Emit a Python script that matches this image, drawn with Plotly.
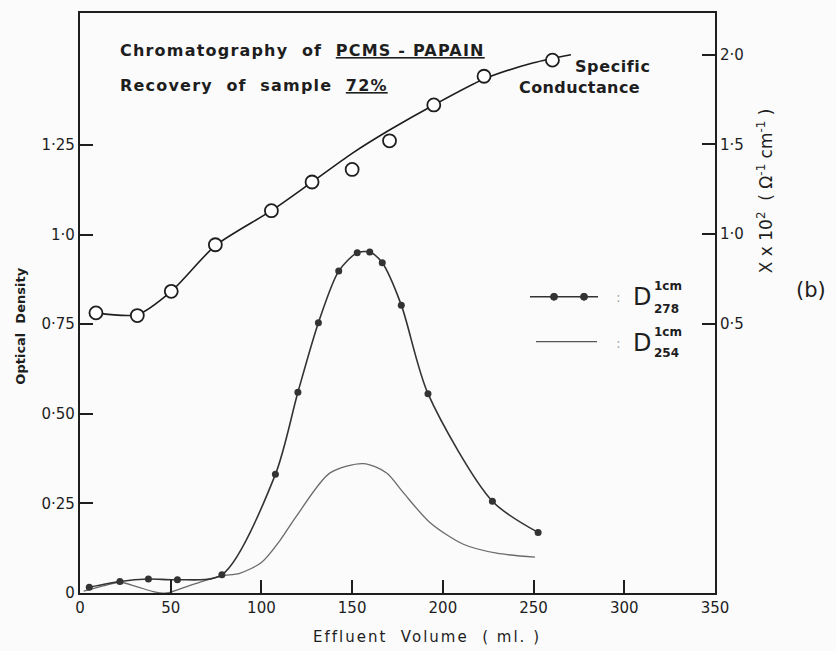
import plotly.graph_objects as go

# ---- data ----
cond_x = [8.8, 31.6, 50.3, 74.6, 105.5, 127.9, 150.0, 170.6, 195.0, 222.7, 260.4]
cond_y = [0.56, 0.545, 0.68, 0.94, 1.13, 1.29, 1.36, 1.52, 1.72, 1.88, 1.97]

cond_fit_x = [8.8, 31.6, 50.3, 74.6, 105.5, 127.9, 150.0, 170.6, 195.0, 222.7, 250.0, 270.6]
cond_fit_y = [0.56, 0.55, 0.68, 0.935, 1.13, 1.29, 1.45, 1.58, 1.72, 1.865, 1.955, 2.0]

d278_x = [5.1, 22.0, 37.7, 53.7, 78.2, 107.7, 120.1, 131.4, 142.6, 152.8, 159.7,
          166.6, 177.1, 191.8, 227.3, 252.5]
d278_y = [0.016, 0.032, 0.039, 0.037, 0.051, 0.331, 0.560, 0.754, 0.898, 0.949, 0.951,
          0.921, 0.803, 0.556, 0.256, 0.169]

d254_x = [2.0, 12.8, 22.0, 31.2, 40.4, 47.8, 58.8, 68.0, 78.2, 88.0, 100.0, 110.0,
          119.4, 137.8, 156.2, 169.0, 178.2, 193.0, 211.3, 229.7, 250.8]
d254_y = [0.005, 0.02, 0.03, 0.018, 0.004, 0.0, 0.018, 0.033, 0.048, 0.055, 0.085, 0.145,
          0.215, 0.335, 0.361, 0.335, 0.28, 0.196, 0.136, 0.111, 0.10]

x_ticks = [0, 50, 100, 150, 200, 250, 300, 350]
y_ticks = [0, 0.25, 0.50, 0.75, 1.0, 1.25]
y_tick_text = ["0", "0·25", "0·50", "0·75", "1·0", "1·25"]
y2_ticks = [0.5, 1.0, 1.5, 2.0]
y2_tick_text = ["0·5", "1·0", "1·5", "2·0"]

INK = "#1e1e1e"
FONT = "DejaVu Sans"

# plot-area geometry in pixels (for placing decorative text)
L, R, T, B = 80, 715, 11, 593.5
PW, PH = R - L, B - T

def px(x):
    return (x - L) / PW

def py(y):
    return (B - y) / PH

fig = go.Figure()

fig.add_trace(go.Scatter(
    x=d254_x, y=d254_y, mode="lines",
    line=dict(color="#6a6a6a", width=1.3, shape="spline", smoothing=0.8),
    showlegend=False, hoverinfo="skip"))

fig.add_trace(go.Scatter(
    x=d278_x, y=d278_y, mode="lines+markers",
    line=dict(color="#333333", width=1.6, shape="spline", smoothing=0.8),
    marker=dict(color="#333333", size=7, symbol="circle"),
    showlegend=False))

fig.add_trace(go.Scatter(
    x=cond_fit_x, y=cond_fit_y, mode="lines", yaxis="y2",
    line=dict(color=INK, width=1.6, shape="spline", smoothing=0.7),
    showlegend=False, hoverinfo="skip"))

fig.add_trace(go.Scatter(
    x=cond_x, y=cond_y, mode="markers", yaxis="y2",
    marker=dict(symbol="circle", size=13, color="white",
                line=dict(color=INK, width=1.8)),
    showlegend=False))

# ---- legend keys (decorative) ----
shapes = [
    dict(type="line", xref="paper", yref="paper", x0=px(530), x1=px(598),
         y0=py(296), y1=py(296), line=dict(color="#333333", width=1.6)),
    dict(type="line", xref="paper", yref="paper", x0=px(536), x1=px(597),
         y0=py(341), y1=py(341), line=dict(color="#555555", width=1.3)),
]
for cxp in (554, 584):
    shapes.append(dict(type="circle", xref="paper", yref="paper",
                       x0=px(cxp - 3.5), x1=px(cxp + 3.5), y0=py(296 + 3.5), y1=py(296 - 3.5),
                       fillcolor="#333333", line=dict(color="#333333", width=1)))

def ann(text, x, y, size, xanchor="left", yanchor="middle", angle=0, color=INK):
    return dict(text=text, x=px(x), y=py(y), xref="paper", yref="paper",
                xanchor=xanchor, yanchor=yanchor, showarrow=False, textangle=angle,
                font=dict(family=FONT, size=size, color=color))

def spaced(s, ls):
    return '<span style="letter-spacing:%spx">%s</span>' % (ls, s)

annotations = [
    ann(spaced("<b>Chromatography  of  <u>PCMS - PAPAIN</u></b>", 1.2), 118, 49, 16),
    ann(spaced("<b>Recovery  of  sample  <u>72%</u></b>", 1.2), 118, 84, 16),
    ann(spaced("<b>Specific</b>", 0.6), 573, 65, 16),
    ann(spaced("<b>Conductance</b>", 0.4), 517, 86, 16),
    ann(":", 618, 296, 14, xanchor="center", color="#aaaaaa"),
    ann(":", 618, 342, 14, xanchor="center", color="#aaaaaa"),
    ann("D", 631, 296, 24),
    ann("<b>1cm</b>", 652, 285, 12),
    ann("<b>278</b>", 652, 308, 12),
    ann("D", 631, 342, 24),
    ann("<b>1cm</b>", 652, 331, 12),
    ann("<b>254</b>", 652, 352, 12),
    ann("X x 10<sup>2</sup>  ( Ω<sup>-1</sup> cm<sup>-1</sup> )", 765, 190, 17,
        xanchor="center", angle=-90),
    ann("(b)", 811, 289, 21, xanchor="center"),
    ann("<b>Optical  Density</b>", 21, 326, 13, xanchor="center", angle=-90),
    ann(spaced("Effluent  Volume  ( ml. )", 2), 427, 638, 15, xanchor="center"),
]

axis_common = dict(showgrid=False, zeroline=False, ticks="inside", ticklen=13,
                   tickwidth=1.6, tickcolor=INK, linecolor=INK, linewidth=2.2,
                   tickfont=dict(family=FONT, size=15, color=INK))

fig.update_layout(
    width=836, height=651,
    margin=dict(l=L, r=836 - R, t=T, b=651 - B),
    paper_bgcolor="#fbfbfb", plot_bgcolor="#fbfbfb",
    showlegend=False,
    xaxis=dict(range=[0, 350], tickvals=x_ticks, showline=True, mirror=True, **axis_common),
    yaxis=dict(range=[0, 1.618], tickvals=y_ticks, ticktext=y_tick_text,
               showline=True, mirror=True, **axis_common),
    yaxis2=dict(range=[-1.003, 2.233], tickvals=y2_ticks, ticktext=y2_tick_text,
                overlaying="y", side="right", showline=False, ticklabelstandoff=4,
                **axis_common),
    shapes=shapes,
    annotations=annotations,
)

fig.write_html("out.html")
